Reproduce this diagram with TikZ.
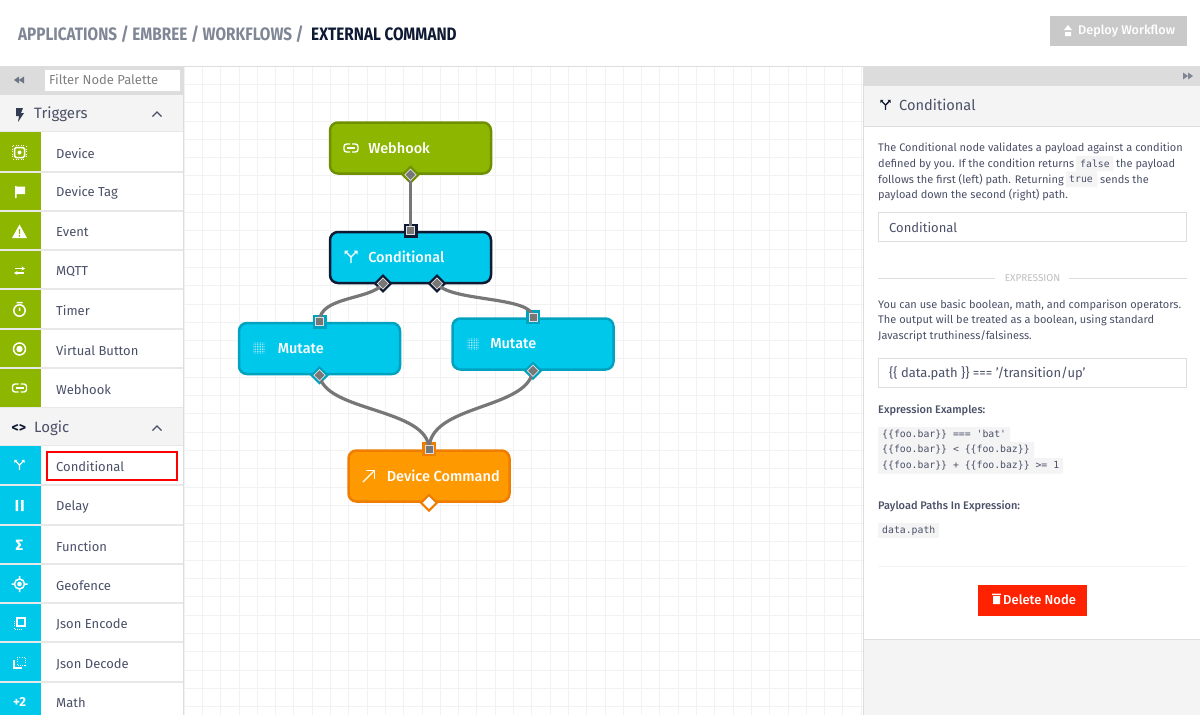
\documentclass[tikz,border=0pt]{standalone}
\usepackage{fontspec}
\setmainfont{Fira Sans}
\newfontfamily\headfont[FakeStretch=0.85]{Fira Sans}
\newfontfamily\medfont{Fira Sans Medium}
\newfontfamily\codefont{DejaVu Sans Mono}
\usepackage{tikz}
\usetikzlibrary{positioning,calc,shapes.geometric,arrows.meta}
\definecolor{leaf}{HTML}{8CB600}
\definecolor{leafdark}{HTML}{6F9000}
\definecolor{sky}{HTML}{00C8EB}
\definecolor{skydark}{HTML}{00A3BF}
\definecolor{ink}{HTML}{0E1A33}
\definecolor{amber}{HTML}{FF9900}
\definecolor{amberdark}{HTML}{EE7D00}
\definecolor{slate}{HTML}{4A5068}
\definecolor{crumb}{HTML}{7F8695}
\definecolor{wire}{HTML}{777777}
\definecolor{rule}{HTML}{DDDDDD}
\definecolor{pale}{HTML}{F4F4F4}
\definecolor{band}{HTML}{DCDCDC}
\definecolor{danger}{HTML}{FF2200}
\tikzstyle{flownode}=[rectangle,rounded corners=8pt,line width=2.5pt,minimum width=161pt,minimum height=51pt,inner sep=0pt]
\tikzstyle{flowtext}=[anchor=west,inner sep=0pt,xshift=0.8pt,yshift=0.3pt,text=white,font=\medfont\fontsize{14.5}{18}\selectfont]
\tikzstyle{rowtext}=[anchor=west,inner sep=0pt,yshift=-0.7pt,text=slate,font=\fontsize{13}{16}\selectfont]
\tikzstyle{headtext}=[anchor=west,inner sep=0pt,yshift=-0.5pt,text=slate,font=\fontsize{15}{18}\selectfont]
\tikzstyle{bodytext}=[anchor=west,inner sep=0pt,yshift=-0.7pt,text=slate,font=\fontsize{11}{14}\selectfont]
\tikzstyle{boldtext}=[anchor=west,inner sep=0pt,yshift=-0.7pt,text=slate,font=\medfont\fontsize{11}{14}\selectfont]
\tikzstyle{codetext}=[anchor=west,inner sep=0pt,text=slate,font=\codefont\fontsize{9.8}{12}\selectfont]
\tikzstyle{crumbtext}=[anchor=west,inner sep=0pt,font=\headfont\bfseries\fontsize{18}{20}\selectfont]
\tikzstyle{inputbox}=[rectangle,draw=rule,line width=1.5pt,fill=white,minimum width=308pt,minimum height=29pt,inner sep=0pt]
\tikzstyle{sqport}=[rectangle,minimum size=14pt,inner sep=0pt]
\tikzstyle{sqcore}=[rectangle,minimum size=8pt,inner sep=0pt,draw=white!75!gray,fill=wire,line width=0.8pt]
\tikzstyle{dmport}=[diamond,minimum size=19pt,inner sep=0pt]
\tikzstyle{dmcore}=[diamond,minimum size=11.5pt,inner sep=0pt,draw=white!75!gray,fill=wire,line width=0.8pt]
\tikzstyle{wireline}=[draw=wire,line width=3.2pt]
\tikzset{
  pics/linkicon/.style={code={
    \draw [line width=1.4pt,rounded corners=2.5pt] (-1,-4) -- (-7,-4) -- (-7,4) -- (-1,4);
    \draw [line width=1.4pt,rounded corners=2.5pt] (1,-4) -- (7,-4) -- (7,4) -- (1,4);
    \draw [line width=1.4pt] (-4,0) -- (4,0);
  }},
  pics/forkicon/.style={code={
    \draw [line width=1.4pt] (0,6) -- (0,0) -- (-5,-5);
    \draw [line width=1.4pt] (0,0) -- (5,-5);
    \fill (-6.5,-6.5) -- (-2.5,-6.5) -- (-6.5,-2.5) -- cycle;
    \fill (6.5,-6.5) -- (2.5,-6.5) -- (6.5,-2.5) -- cycle;
  }},
  pics/dotsicon/.style={code={
    \foreach \a in {-5,-3.3,-1.6,0,1.6,3.3,5} \foreach \b in {-5,-3.3,-1.6,0,1.6,3.3,5}
      \fill (\a,\b) circle (0.45pt);
  }},
  pics/chevronicon/.style={code={
    \draw [line width=1.2pt,draw=slate] (-4.5,2.5) -- (0,-2) -- (4.5,2.5);
  }}
}
\begin{document}
\begin{tikzpicture}[x=1pt,y=-1pt]
  \useasboundingbox (0,0) rectangle (1200,715);
  \fill [white] (0,0) rectangle (1200,715);

  % canvas
  \draw [black!5,line width=0.8pt,shift={(184,66)}] (0,0) grid [xstep=18.3,ystep=-18.3] (680,649);

  % top bar
  \draw [rule,line width=1pt] (0,66) -- (1200,66);
  \node [crumbtext,text=crumb] at (18,34) (crumbs) {APPLICATIONS / EMBREE / WORKFLOWS /};
  \node [crumbtext,text=ink] at (311,34) (crumbnow) {EXTERNAL COMMAND};
  \node [rectangle,fill=black!21,minimum width=137pt,minimum height=30pt,inner sep=0pt] at (1118.5,31) (deploy) {};
  \node [anchor=west,inner sep=0pt,text=white,font=\medfont\fontsize{12.6}{16}\selectfont] at (1078,31) (deploytext) {Deploy Workflow};
  \fill [white] (1065,32) rectangle (1071,36) (1068,25) -- (1072,30) -- (1064,30) -- cycle;

  % palette
  \fill [band] (0,67) rectangle (183,95);
  \node [rectangle,draw=rule,line width=1.5pt,fill=white,minimum width=137pt,minimum height=23pt,inner sep=0pt] at (112.5,80.5) (filter) {};
  \node [anchor=west,inner sep=0pt,text=black!50,font=\fontsize{13}{15}\selectfont] at (49,80) (filtertext) {Filter Node Palette};
  \fill [slate!80] (19,76.5) -- (19,83.5) -- (14,80) -- cycle (24,76.5) -- (24,83.5) -- (19,80) -- cycle;
  \fill [pale] (0,95) rectangle (183,131);
  \fill [pale] (0,408) rectangle (183,445);
  \fill [leaf] (0,132) rectangle (41,408);
  \fill [sky] (0,446) rectangle (41,715);
  \draw [rule,line width=1pt] (183.5,67) -- (183.5,715);
  \foreach \y in {131.5,172,211,250,289,329,368,407.5,445.5,485,525,564,603,642,682}
    \draw [black!9,line width=1.2pt] (0,\y) -- (183,\y);
  \node [headtext] at (34,114) (triggers) {Triggers};
  \node [headtext] at (34,427.5) (logic) {Logic};
  \fill [ink!85] (16,108) -- (23,108) -- (21,113) -- (24,113) -- (18,122) -- (19,116) -- (16,116) -- cycle;
  \node [inner sep=0pt,text=ink,font=\fontsize{14}{16}\selectfont\bfseries] at (19,428) (logicicon) {<>};
  \pic at (157,114) {chevronicon};
  \pic at (157,428) {chevronicon};

  \node [rowtext] at (56,152.5) (device) {Device};
  \node [rowtext] at (56,192.5) (devicetag) {Device Tag};
  \node [rowtext] at (56,231.5) (event) {Event};
  \node [rowtext] at (56,271) (mqtt) {MQTT};
  \node [rowtext] at (56,310) (timer) {Timer};
  \node [rowtext] at (56,349.5) (vbutton) {Virtual Button};
  \node [rowtext] at (56,388.5) (hook) {Webhook};
  \node [rowtext] at (56,466) (cond) {Conditional};
  \node [rowtext] at (56,506.5) (delay) {Delay};
  \node [rowtext] at (56,545.5) (function) {Function};
  \node [rowtext] at (56,584.5) (geofence) {Geofence};
  \node [rowtext] at (56,623.5) (encode) {Json Encode};
  \node [rowtext] at (56,663.5) (decode) {Json Decode};
  \node [rowtext] at (56,702.5) (math) {Math};
  \node [rectangle,draw=red,line width=2pt,minimum width=130pt,minimum height=28pt,inner sep=0pt] at (112,465.5) (selected) {};

  % palette icons
  \draw [white,line width=1.5pt,rounded corners=1.5pt] (14.5,147.5) rectangle (24.5,157.5);
  \fill [white] (19.5,152.5) circle (2pt);
  \draw [white,line width=1pt,dash pattern=on 1pt off 1.6pt] (13,145.5) -- (26,145.5) (13,159.5) -- (26,159.5) (12.5,146) -- (12.5,159) (26.5,146) -- (26.5,159);
  \fill [white] (15,186) rectangle (16.5,198) (16.5,186.5) -- (25,186.5) -- (25,194) -- (16.5,194) -- cycle;
  \fill [white] (19.5,224.5) -- (27,238) -- (12,238) -- cycle;
  \fill [leaf] (18.8,229) rectangle (20.2,234) (18.8,235) rectangle (20.2,236.5);
  \draw [white,line width=1.3pt,-{Stealth[length=3.5pt,width=4pt]}] (15,268.5) -- (25,268.5);
  \draw [white,line width=1.3pt,-{Stealth[length=3.5pt,width=4pt]}] (24,273) -- (14,273);
  \draw [white,line width=1.5pt] (19.5,310.5) circle (5.7pt) (16.5,302.5) -- (22.5,302.5) (19.5,307.5) -- (19.5,311);
  \draw [white,line width=1.5pt] (19.5,349) circle (6pt);
  \fill [white] (19.5,349) circle (3.2pt);
  \pic [white] at (19.5,388) {linkicon};
  \pic [white,scale=0.8] at (19.5,465) {forkicon};
  \fill [white] (15.5,500) rectangle (18,511) (21,500) rectangle (23.5,511);
  \node [inner sep=0pt,text=white,font=\fontsize{15}{16}\selectfont\bfseries] at (19.5,545) (sigma) {Σ};
  \draw [white,line width=1.5pt] (19.5,584) circle (5pt) (19.5,576) -- (19.5,579) (19.5,589) -- (19.5,592) (11.5,584) -- (14.5,584) (24.5,584) -- (27.5,584);
  \fill [white] (19.5,584) circle (2.3pt);
  \draw [white,line width=1.2pt] (17,618) rectangle (25,626);
  \draw [white,line width=1pt,dash pattern=on 1pt off 1.2pt] (14,621) -- (14,629) -- (22,629);
  \draw [white,line width=1pt,dash pattern=on 1pt off 1.2pt] (17,657) rectangle (25,665);
  \draw [white,line width=1.2pt] (14,660) -- (14,668) -- (22,668);
  \node [inner sep=0pt,text=white,font=\fontsize{13}{15}\selectfont\bfseries] at (19.5,702) (plustwo) {+2};

  % flow
  \node [flownode,draw=leafdark,fill=leaf] at (410.5,148) (webhook) {};
  \node [flownode,draw=ink,fill=sky] at (410.5,257.5) (conditional) {};
  \node [flownode,draw=skydark,fill=sky] at (319.5,348.5) (mutateA) {};
  \node [flownode,draw=skydark,fill=sky] at (533,344) (mutateB) {};
  \node [flownode,draw=amberdark,fill=amber] at (429,476) (command) {};

  \node [flowtext] at ($(webhook.west)+(38.5,0)$) (webhooktext) {Webhook};
  \node [flowtext] at ($(conditional.west)+(38.5,0)$) (conditionaltext) {Conditional};
  \node [flowtext] at ($(mutateA.west)+(39,0)$) (mutateAtext) {Mutate};
  \node [flowtext] at ($(mutateB.west)+(38,0)$) (mutateBtext) {Mutate};
  \node [flowtext] at ($(command.west)+(38.5,0)$) (commandtext) {Device Command};
  \pic [white] at (351,148) {linkicon};
  \pic [white] at (351,257) {forkicon};
  \pic [white] at (259,348) {dotsicon};
  \pic [white] at (473,344) {dotsicon};
  \draw [white,line width=1.4pt] (363,482) -- (374,471);
  \draw [white,line width=1.4pt] (366,470.5) -- (374.5,470.5) -- (374.5,479);

  \node [dmport,fill=leafdark] at (webhook.south) (webhookout) {};
  \node [sqport,fill=ink] at (conditional.north) (conditionalin) {};
  \node [dmport,fill=ink] at (383,283.5) (conditionalleft) {};
  \node [dmport,fill=ink] at (437,283.5) (conditionalright) {};
  \node [sqport,fill=skydark] at (mutateA.north) (mutateAin) {};
  \node [dmport,fill=skydark] at (mutateA.south) (mutateAout) {};
  \node [sqport,fill=skydark] at (mutateB.north) (mutateBin) {};
  \node [dmport,fill=skydark] at (mutateB.south) (mutateBout) {};
  \node [sqport,fill=amberdark] at (command.north) (commandin) {};
  \node [dmport,fill=amberdark] at (command.south) (commandout) {};

  \draw [wireline] (webhookout.center) -- (conditionalin.center);
  \draw [wireline] (conditionalleft.center) .. controls (372,300) and (319,296) .. (mutateAin.center);
  \draw [wireline] (conditionalright.center) .. controls (450,302) and (533,296) .. (mutateBin.center);
  \draw [wireline] (mutateAout.center) .. controls (325,412) and (429,408) .. (commandin.center);
  \draw [wireline] (mutateBout.center) .. controls (527,410) and (429,404) .. (commandin.center);

  \node [dmcore] at (webhookout) (webhookdot) {};
  \node [sqcore] at (conditionalin) (conditionaldot) {};
  \node [dmcore] at (conditionalleft) (leftdot) {};
  \node [dmcore] at (conditionalright) (rightdot) {};
  \node [sqcore] at (mutateAin) (mutateAdot) {};
  \node [dmcore] at (mutateAout) (mutateAend) {};
  \node [sqcore] at (mutateBin) (mutateBdot) {};
  \node [dmcore] at (mutateBout) (mutateBend) {};
  \node [sqcore] at (commandin) (commanddot) {};
  \node [dmcore,fill=white,draw=white] at (commandout) (commandend) {};

  % side panel
  \fill [band] (864,67) rectangle (1200,86);
  \fill [pale] (864,86) rectangle (1200,126);
  \fill [pale] (864,640) rectangle (1200,715);
  \draw [rule,line width=1pt] (863.5,67) -- (863.5,715);
  \draw [rule,line width=1pt] (864,126.5) -- (1200,126.5);
  \draw [rule,line width=1pt] (864,639.5) -- (1200,639.5);
  \fill [slate!70] (1188,72.5) -- (1188,79.5) -- (1193,76) -- cycle (1183,72.5) -- (1183,79.5) -- (1188,76) -- cycle;
  \pic [ink,scale=0.8] at (885.5,105) {forkicon};
  \node [headtext,font=\fontsize{14.6}{18}\selectfont] at (899,104.5) (paneltitle) {Conditional};

  \fill [pale] (1076,156) rectangle (1113,171) (1066,171.5) rectangle (1097,187);
  \node [bodytext] at (878,148) (lineone) {The Conditional node validates a payload against a condition};
  \node [bodytext] at (878,163.5) (linetwo) {defined by you. If the condition returns};
  \node [codetext] at (1080,163.5) (codefalse) {false};
  \node [bodytext] at (1116,163.5) (linetwob) {the payload};
  \node [bodytext] at (878,179) (linethree) {follows the first (left) path. Returning};
  \node [codetext] at (1069,179) (codetrue) {true};
  \node [bodytext] at (1100,179) (linethreeb) {sends the};
  \node [bodytext] at (878,194.5) (linefour) {payload down the second (right) path.};
  \node [inputbox] at (1032.5,227) (nameinput) {};
  \node [rowtext] at (889,226.5) (nametext) {Conditional};

  \node [inner sep=0pt,text=black!25,font=\fontsize{10}{12}\selectfont] at (1032.5,278) (expression) {EXPRESSION};
  \draw [rule,line width=1pt] (878,278.5) -- (995,278.5);
  \draw [rule,line width=1pt] (1069,278.5) -- (1187,278.5);
  \node [bodytext] at (878,304.5) (paraone) {You can use basic boolean, math, and comparison operators.};
  \node [bodytext] at (878,320) (paratwo) {The output will be treated as a boolean, using standard};
  \node [bodytext] at (878,336) (parathree) {Javascript truthiness/falsiness.};
  \node [inputbox] at (1032.5,373) (exprinput) {};
  \node [rowtext] at (889,372.5) (exprtext) {\{\{ data.path \}\} === '/transition/up'};

  \node [boldtext] at (878,409.5) (examplestitle) {Expression Examples:};
  \fill [pale] (878,427) rectangle (1010,442) (878,442) rectangle (1034,458) (878,458) rectangle (1063,473.5);
  \node [codetext] at (882,434.5) (exampleone) {\{\{foo.bar\}\} === 'bat'};
  \node [codetext] at (882,450) (exampletwo) {\{\{foo.bar\}\} < \{\{foo.baz\}\}};
  \node [codetext] at (882,465.5) (examplethree) {\{\{foo.bar\}\} + \{\{foo.baz\}\} >= 1};
  \node [boldtext] at (878,505.5) (pathstitle) {Payload Paths In Expression:};
  \fill [pale] (878,523) rectangle (939,538);
  \node [codetext] at (882,530.5) (pathcode) {data.path};
  \draw [pale,line width=1pt] (878,566.5) -- (1187,566.5);

  \node [rectangle,fill=danger,minimum width=109pt,minimum height=31pt,inner sep=0pt] at (1032.5,600) (delete) {};
  \node [anchor=west,inner sep=0pt,text=white,font=\medfont\fontsize{13}{16}\selectfont] at (1003,599.5) (deletetext) {Delete Node};
  \fill [white] (993,596) rectangle (1000,604) (992,593.5) rectangle (1001,595.2);
\end{tikzpicture}
\end{document}
